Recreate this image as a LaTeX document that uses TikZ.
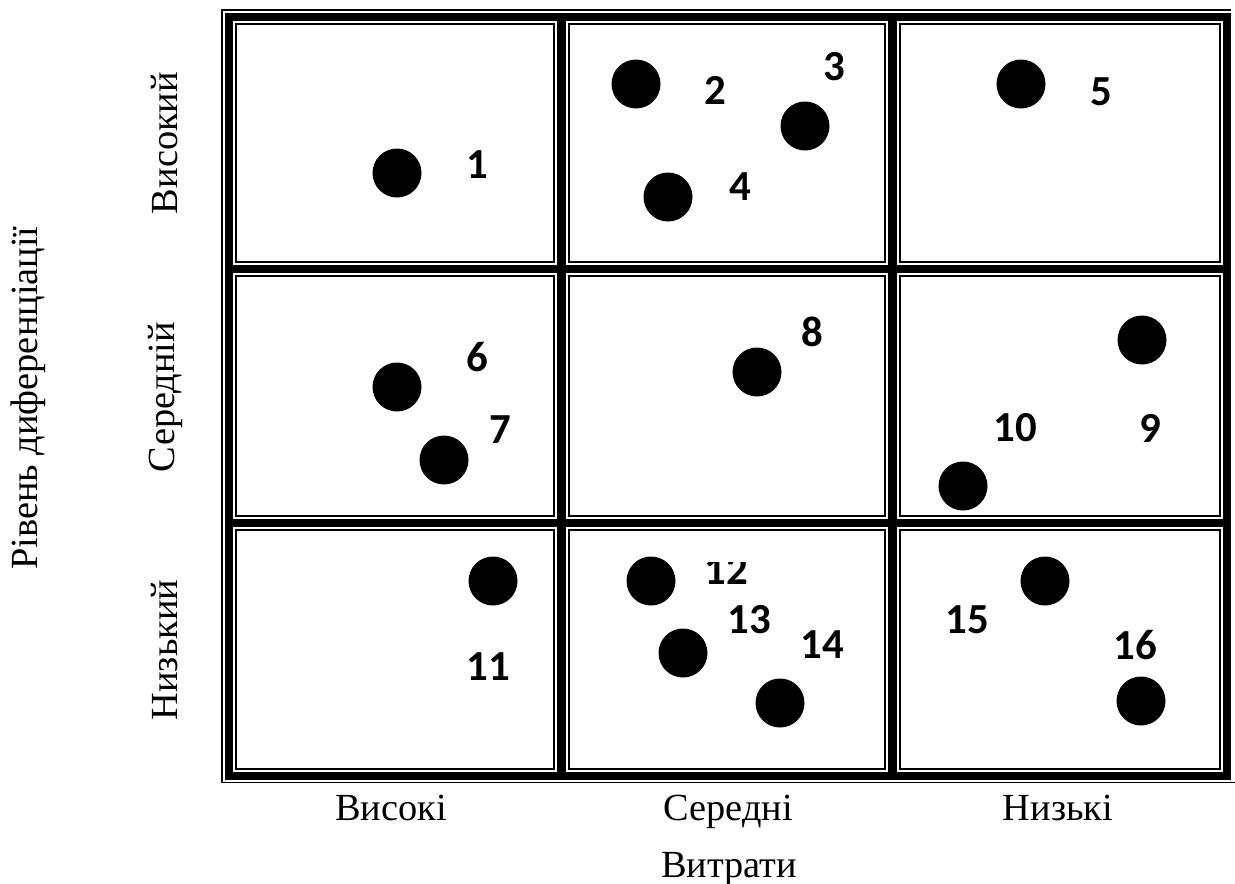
\documentclass[tikz,border=0pt]{standalone}
\usepackage{fontspec}
\setmainfont{Liberation Serif}
\newfontfamily\numfont{Carlito}
\begin{document}
\begin{tikzpicture}[x=1bp,y=-1bp,
  dot/.style={circle,fill=black,minimum size=49bp,inner sep=0pt},
  num/.style={font=\numfont\bfseries\fontsize{43}{50}\selectfont,inner sep=0pt},
  lab/.style={font=\fontsize{38.5}{44}\selectfont,inner sep=0pt},
  thin/.style={line width=2bp},
  outer/.style={line width=1.6bp}]
\useasboundingbox (0,0) rectangle (1235,884);
% thick frame
\fill[black] (225,13) rectangle (1231,780);
\foreach \xa/\xb in {233/557,566/888,897/1223}{
  \foreach \ya/\yb in {21/265,273/519,527/772}{
    \fill[white] (\xa,\ya) rectangle (\xb,\yb);
    \draw[thin] (\xa+3,\ya+3) rectangle (\xb-3,\yb-3);
  }
}
% outer thin lines
\draw[outer] (1231,10) -- (222,10) -- (222,782.5) -- (1235,782.5);
% dots
\node[dot] (d1) at (397,173) {};
\node[dot] (d2) at (636,84) {};
\node[dot] (d3) at (805,126) {};
\node[dot] (d4) at (668,197) {};
\node[dot] (d5) at (1021,84) {};
\node[dot] (d6) at (397,387) {};
\node[dot] (d7) at (444,460) {};
\node[dot] (d8) at (757,372) {};
\node[dot] (d9) at (1142,340) {};
\node[dot] (d10) at (963,486) {};
\node[dot] (d11) at (493,581) {};
\node[dot] (d12) at (651,581) {};
\node[dot] (d13) at (683,653) {};
\node[dot] (d14) at (780,703) {};
\node[dot] (d15) at (1045,581) {};
\node[dot] (d16) at (1141,701) {};
% numbers
\node[num] (l1) at (477,165) {1};
\node[num] (l2) at (715,90) {2};
\node[num] (l3) at (834,67) {3};
\node[num] (l4) at (740,187) {4};
\node[num] (l5) at (1101,92) {5};
\node[num] (l6) at (477,357) {6};
\node[num] (l7) at (500,430) {7};
\node[num] (l8) at (812,332) {8};
\node[num] (l9) at (1150,428) {9};
\node[num] (l10) at (1015,428) {10};
\node[num] (l11) at (488,667) {11};
\begin{scope}
  \clip (690,562) rectangle (770,600);
  \node[num] (l12) at (726,570) {12};
\end{scope}
\node[num] (l13) at (749,620) {13};
\node[num] (l14) at (822,645) {14};
\node[num] (l15) at (967,620) {15};
\node[num] (l16) at (1135,645) {16};
% axis labels
\node[lab,anchor=base] (c1) at (391,820) {Високі};
\node[lab,anchor=base] (c2) at (728,820) {Середні};
\node[lab,anchor=base] (c3) at (1058,820) {Низькі};
\node[lab,anchor=base] (xt) at (729,877) {Витрати};
\node[lab,rotate=90] (r1) at (165,143) {Високий};
\node[lab,rotate=90] (r2) at (165,397) {Середній};
\node[lab,rotate=90] (r3) at (165,650) {Низький};
\node[lab,rotate=90] (yt) at (28,398) {Рівень диференціації};
\end{tikzpicture}
\end{document}
